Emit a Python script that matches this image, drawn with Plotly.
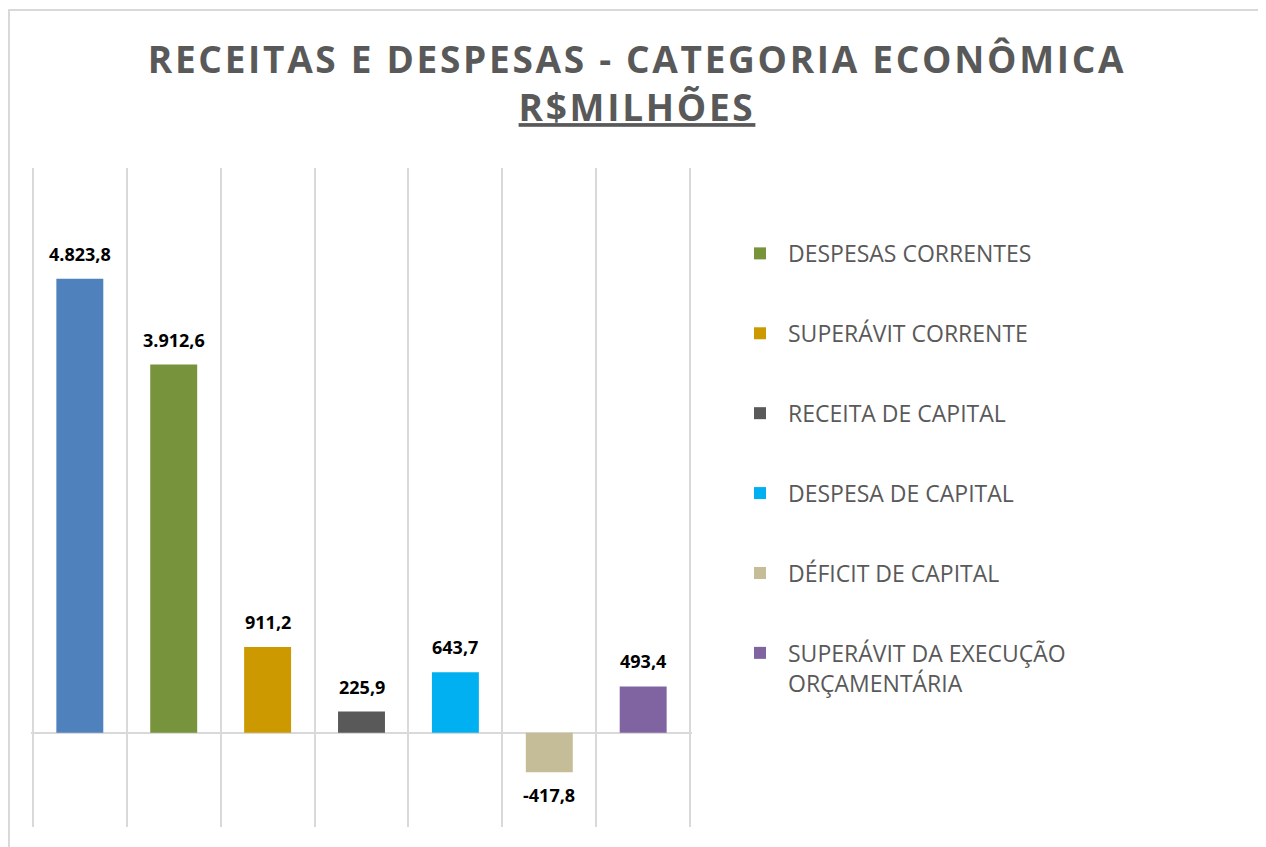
import plotly.graph_objects as go

categories = [
    "RECEITAS CORRENTES",
    "DESPESAS CORRENTES",
    "SUPERÁVIT CORRENTE",
    "RECEITA DE CAPITAL",
    "DESPESA DE CAPITAL",
    "DÉFICIT DE CAPITAL",
    "SUPERÁVIT DA EXECUÇÃO<br>ORÇAMENTÁRIA",
]
values = [4823.8, 3912.6, 911.2, 225.9, 643.7, -417.8, 493.4]
colors = ["#4F81BD", "#77933C", "#CC9900", "#595959", "#00B0F0", "#C4BD97", "#8064A2"]
show_in_legend = [False, True, True, True, True, True, True]


def fmt_br(v):
    s = f"{abs(v):,.1f}".replace(",", "X").replace(".", ",").replace("X", ".")
    return ("-" if v < 0 else "") + s


FONT = "Open Sans"
GREY = "#595959"

# the page body has an 8px margin, so the figure is sized/offset accordingly
W, H = 1258, 839
L, T, R, B = 23, 160, 574, 20
PW, PH = W - L - R, H - T - B

fig = go.Figure()
for i, (name, v, c, sl) in enumerate(zip(categories, values, colors, show_in_legend)):
    fig.add_trace(go.Bar(
        x=[i], y=[v], name=name, legendgroup=f"g{i}",
        marker=dict(color=c, line=dict(width=0)),
        width=0.5, showlegend=sl,
    ))
    fig.add_annotation(
        x=i, y=v, xref="x", yref="y", text=f"<b>{fmt_br(v)}</b>",
        showarrow=False, yanchor="middle",
        yshift=25 if v >= 0 else -23,
        font=dict(family=FONT, size=18, color="#000000"),
    )

grid_ticks = [i - 0.5 for i in range(len(values) + 1)]

fig.update_layout(
    width=W, height=H,
    margin=dict(l=L, r=R, t=T, b=B),
    paper_bgcolor="white", plot_bgcolor="white",
    barmode="relative",
    title=dict(
        text='<span style="letter-spacing:2.7px"><b>RECEITAS E DESPESAS - CATEGORIA ECONÔMICA</b></span><br>'
             '<span style="letter-spacing:2.7px"><b><u>R$MILHÕES</u></b></span>',
        x=0.5, xref="container", xanchor="center",
        y=1 - 65 / H, yref="container", yanchor="top",
        font=dict(family=FONT, size=37, color=GREY),
    ),
    xaxis=dict(
        range=[-0.52, 6.52], tickvals=grid_ticks, showticklabels=False,
        showgrid=True, gridcolor="#D9D9D9", gridwidth=1.5,
        zeroline=False, showline=False, ticks="",
    ),
    yaxis=dict(
        range=[-1000, 6000], showgrid=False, showticklabels=False,
        zeroline=True, zerolinecolor="#D9D9D9", zerolinewidth=2,
        showline=False, ticks="",
    ),
    legend=dict(
        x=(732 - 8 - L) / PW, xanchor="left", y=0.903, yanchor="top",
        font=dict(family=FONT, size=23, color=GREY),
        traceorder="grouped", tracegroupgap=47, valign="top",
        itemwidth=46,
        bgcolor="rgba(0,0,0,0)",
    ),
    shapes=[dict(
        type="rect", xref="paper", yref="paper",
        x0=(1 - L) / PW, x1=(1257 - L) / PW,
        y0=-(B + 30) / PH, y1=(T - 2) / PH + 1,
        line=dict(color="#D9D9D9", width=2), fillcolor="rgba(0,0,0,0)",
        layer="below",
    )],
)

fig.write_html("out.html")
